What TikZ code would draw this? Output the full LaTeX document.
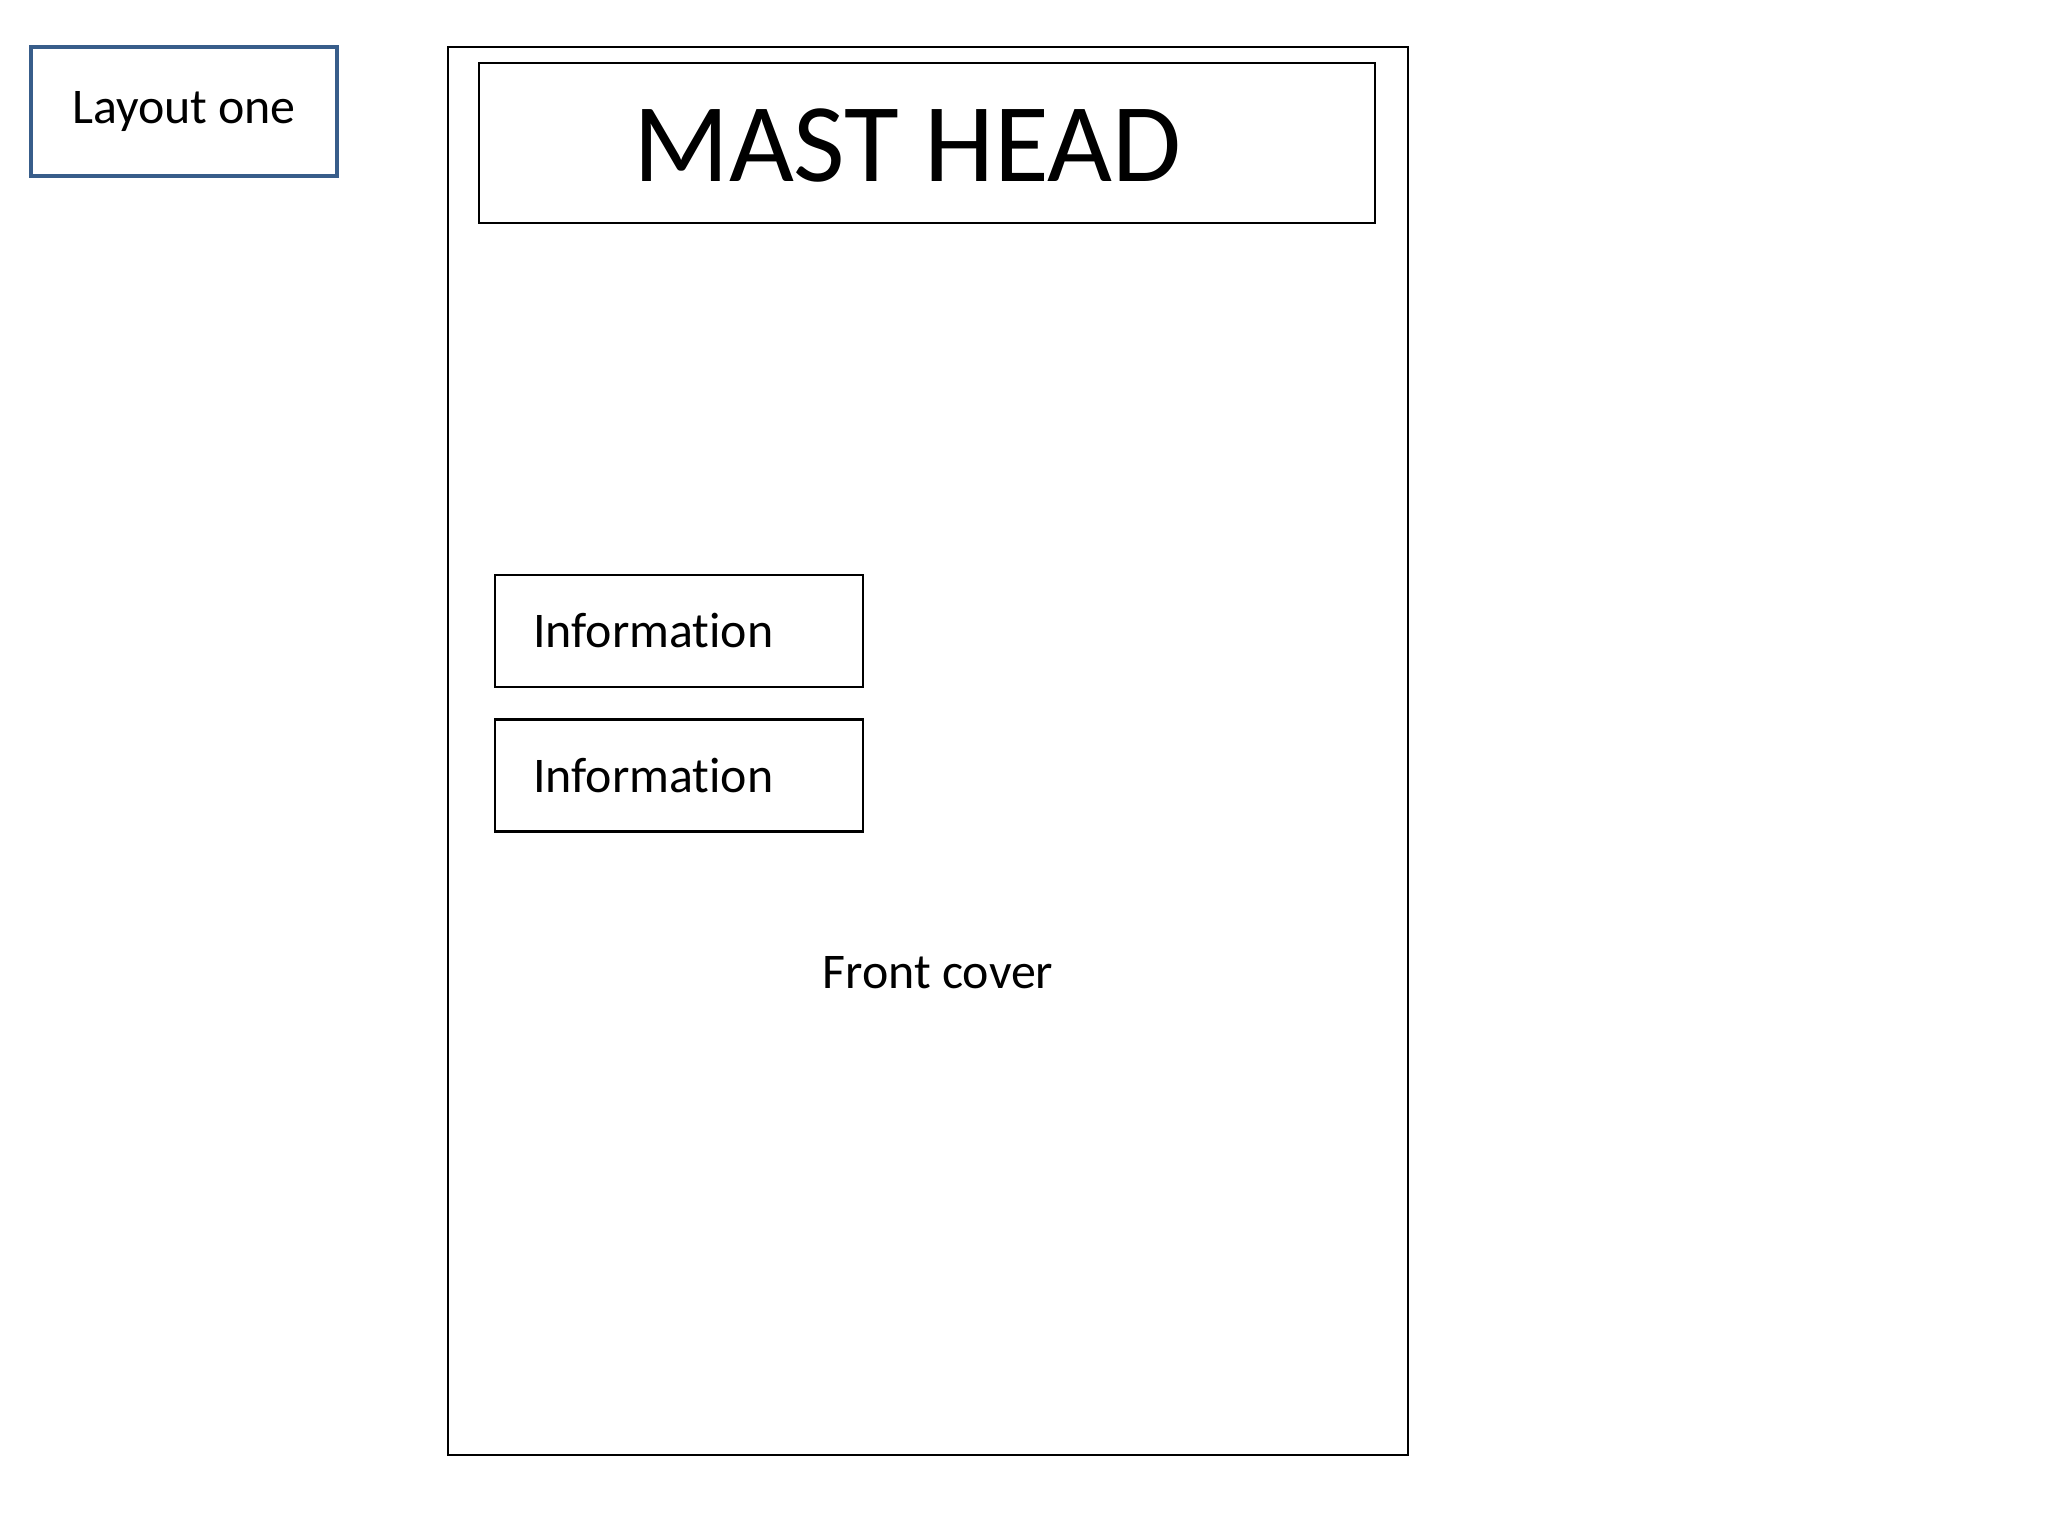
\documentclass[tikz,border=0pt]{standalone}
\usepackage{fontspec}
\setmainfont[RawFeature=-liga]{Carlito}
\usetikzlibrary{positioning}
\definecolor{layoutblue}{RGB}{56,93,138}
\tikzset{
    plain box/.style={rectangle, draw, black, line width=0.75pt, inner sep=0pt},
    title box/.style={rectangle, draw=layoutblue, line width=1.4pt, text=black,
        minimum width=3.06cm, minimum height=1.29cm, font=\fontsize{14.2}{17}\selectfont},
    info box/.style={plain box, minimum height=1.12cm, text width=2.92cm,
        inner xsep=0.38cm, align=left, font=\fontsize{14.2}{17}\selectfont},
    cover text/.style={font=\fontsize{14.2}{17}\selectfont, anchor=base}
}
\begin{document}
\begin{tikzpicture}
    \useasboundingbox (0,0) rectangle (20.48,-15.36);
    % layout label
    \node[title box] (layout) at (1.84,-1.115) {Layout one};
    % the page and its parts
    \node[plain box, minimum width=9.60cm, minimum height=14.08cm] (page) at (9.28,-7.51) {};
    \node[plain box, minimum width=8.96cm, minimum height=1.60cm] (mast) at (9.27,-1.43) {};
    \node[font=\fontsize{31.9}{38}\selectfont, anchor=base] (masttext) at (9.075,-1.82) {MAST HEAD};
    \node[info box] (info1) at (6.79,-6.31) {Information};
    \node[info box, below=0.30cm of info1] (info2) {Information};
    \node[cover text] (cover) at (9.38,-9.88) {Front cover};
\end{tikzpicture}
\end{document}
